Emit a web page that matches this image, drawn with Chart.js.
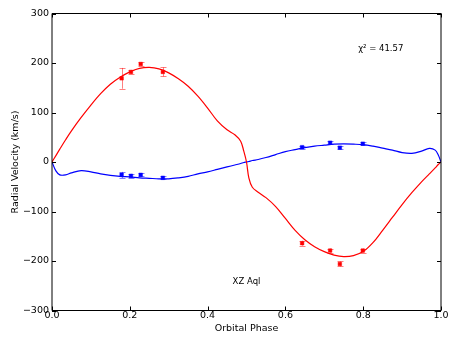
<!DOCTYPE html>
<html><head><meta charset="utf-8">
<script src="https://cdn.jsdelivr.net/npm/chart.js@4/dist/chart.umd.min.js"></script>
<style>html,body{margin:0;padding:0;background:#fff;}</style>
</head><body>
<canvas id="c" width="458" height="343" style="width:458px;height:343px;display:block"></canvas>
<script>
// ---- data ----
const curvePhase = [0, 0.01, 0.02, 0.035, 0.05, 0.075, 0.1, 0.125, 0.15, 0.175, 0.2, 0.225, 0.25, 0.275, 0.3, 0.325, 0.35, 0.375, 0.4, 0.425, 0.45, 0.47, 0.485, 0.493, 0.5, 0.506, 0.515, 0.53, 0.55, 0.575, 0.6, 0.625, 0.65, 0.675, 0.7, 0.725, 0.75, 0.775, 0.8, 0.825, 0.85, 0.875, 0.9, 0.925, 0.95, 0.97, 0.985, 0.993, 1.0];
const curveRvA = [0, 13, 26, 45, 63, 90, 115, 138, 157, 171, 182, 189, 191, 188, 180, 168, 153, 133, 109, 83, 65, 55, 42, 22, 0, -32, -51, -61, -72, -90, -114, -138, -157, -171, -181, -188, -191, -189, -181, -163, -138, -112, -86, -62, -40, -24, -12, -5, 0];
const curveRvB = [0, -18, -26, -26, -22, -17.5, -20, -24, -27, -29, -30, -32, -33, -34, -34, -32, -29, -24, -20, -15, -10, -6, -3, -1, 0, 1, 3, 5, 9, 15, 21, 25, 29, 32, 34, 36, 36.5, 36, 35, 32, 28, 24, 19, 17.5, 22, 27.5, 24, 14, 0];

const obsPhase = [0.179, 0.203, 0.228, 0.285, 0.643, 0.715, 0.740, 0.799];
const obsRvA  = [169, 182, 198, 182, -164, -179, -206, -179];
const obsErrA = [21, 4, 4, 9, 5, 4, 5, 4];
const obsRvB  = [-26, -28, -26, -32, 30, 39, 29, 37];
const obsErrB = [6, 4, 3, 3, 3, 3, 3, 3];

const xTickValues = [0, 0.2, 0.4, 0.6, 0.8, 1.0];
const yTickValues = [-300, -200, -100, 0, 100, 200, 300];
const chiLabel = 'χ² = 41.57';
const starName = 'XZ Aql';
const xTitle = 'Orbital Phase';
const yTitle = 'Radial Velocity (km/s)';

const FONT = 'DejaVu Sans';
const toXY = (xs, ys) => xs.map((x, i) => ({x: x, y: ys[i]}));

const errorBars = {
  id: 'errorBars',
  beforeDatasetsDraw(chart) {
    const ctx = chart.ctx, xs = chart.scales.x, ys = chart.scales.y;
    chart.data.datasets.forEach(ds => {
      if (!ds.errors) return;
      ctx.save();
      ctx.strokeStyle = ds.errorColor;
      ctx.lineWidth = 1;
      ds.data.forEach((p, i) => {
        const e = ds.errors[i];
        const px = Math.round(xs.getPixelForValue(p.x)) + 0.5;
        const y1 = ys.getPixelForValue(p.y - e), y2 = ys.getPixelForValue(p.y + e);
        ctx.beginPath();
        ctx.moveTo(px, y1); ctx.lineTo(px, y2);
        ctx.moveTo(px - 3, Math.round(y1) + 0.5); ctx.lineTo(px + 3, Math.round(y1) + 0.5);
        ctx.moveTo(px - 3, Math.round(y2) + 0.5); ctx.lineTo(px + 3, Math.round(y2) + 0.5);
        ctx.stroke();
      });
      ctx.restore();
    });
  }
};

const frame = {
  id: 'frame',
  afterDraw(chart) {
    const ctx = chart.ctx, a = chart.chartArea, xs = chart.scales.x, ys = chart.scales.y;
    ctx.save();
    ctx.strokeStyle = '#000';
    ctx.lineWidth = 1;
    ctx.beginPath();
    ctx.moveTo(a.left, a.top); ctx.lineTo(a.right, a.top);
    ctx.moveTo(a.left, a.bottom); ctx.lineTo(a.right, a.bottom);
    ctx.moveTo(a.left, a.top); ctx.lineTo(a.left, a.bottom);
    ctx.moveTo(a.right, a.top); ctx.lineTo(a.right, a.bottom);
    ctx.stroke();
    ctx.beginPath();
    xTickValues.forEach(v => {
      const px = Math.round(xs.getPixelForValue(v)) + 0.5;
      ctx.moveTo(px, a.top); ctx.lineTo(px, a.top + 4);
      ctx.moveTo(px, a.bottom); ctx.lineTo(px, a.bottom - 4);
    });
    yTickValues.forEach(v => {
      const py = Math.round(ys.getPixelForValue(v)) + 0.5;
      ctx.moveTo(a.left, py); ctx.lineTo(a.left + 4, py);
      ctx.moveTo(a.right, py); ctx.lineTo(a.right - 4, py);
    });
    ctx.stroke();
    ctx.fillStyle = '#000';
    ctx.font = '8.5px "' + FONT + '"';
    ctx.textBaseline = 'middle';
    ctx.textAlign = 'left';
    ctx.fillText(chiLabel, xs.getPixelForValue(0.787), ys.getPixelForValue(229));
    ctx.textAlign = 'center';
    ctx.fillText(starName, xs.getPixelForValue(0.5), ys.getPixelForValue(-243));
    ctx.restore();
  }
};

new Chart(document.getElementById('c'), {
  type: 'scatter',
  data: {
    datasets: [
      {data: toXY(curvePhase, curveRvA), showLine: true, borderColor: '#ff0000', borderWidth: 1.2, pointRadius: 0, tension: 0.35, fill: false},
      {data: toXY(curvePhase, curveRvB), showLine: true, borderColor: '#0000ff', borderWidth: 1.2, pointRadius: 0, tension: 0.35, fill: false},
      {data: toXY(obsPhase, obsRvA), errors: obsErrA, errorColor: 'rgba(255,0,0,0.5)', pointStyle: 'rect', pointRadius: 2.5, borderWidth: 0.5, backgroundColor: '#ff0000', borderColor: '#ff0000'},
      {data: toXY(obsPhase, obsRvB), errors: obsErrB, errorColor: 'rgba(0,0,255,0.5)', pointStyle: 'rect', pointRadius: 2.5, borderWidth: 0.5, backgroundColor: '#0000ff', borderColor: '#0000ff'}
    ]
  },
  options: {
    responsive: false, animation: false, devicePixelRatio: 1,
    layout: {padding: {top: 13.5, right: 17, left: 0, bottom: 0}},
    plugins: {legend: {display: false}, tooltip: {enabled: false}},
    scales: {
      x: {
        type: 'linear', min: 0, max: 1,
        afterBuildTicks: s => { s.ticks = xTickValues.map(v => ({value: v})); },
        afterFit: s => { s.height = 32.5; },
        grid: {display: false, drawTicks: false}, border: {display: false},
        ticks: {padding: 0, color: '#000', autoSkip: false, maxRotation: 0, font: {family: FONT, size: 9.5, lineHeight: 1}, callback: v => Number(v).toFixed(1)},
        title: {display: true, text: xTitle, color: '#000', font: {family: FONT, size: 9.5}, padding: {top: 0, bottom: 8.3}}
      },
      y: {
        type: 'linear', min: -300, max: 300,
        afterBuildTicks: s => { s.ticks = yTickValues.map(v => ({value: v})); },
        afterFit: s => { s.width = 52; },
        grid: {display: false, drawTicks: false}, border: {display: false},
        ticks: {padding: 3, color: '#000', autoSkip: false, font: {family: FONT, size: 9.5}, callback: v => v < 0 ? '\u2212' + Math.abs(v) : String(v)},
        title: {display: true, text: yTitle, color: '#000', font: {family: FONT, size: 9.5}, padding: {top: 10.3, bottom: 0}}
      }
    }
  },
  plugins: [errorBars, frame]
});
</script>
</body></html>
